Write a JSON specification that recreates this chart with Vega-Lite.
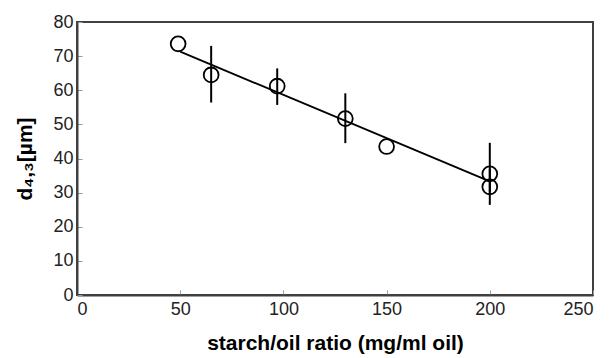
{
  "$schema": "https://vega.github.io/schema/vega-lite/v6.json",
  "width": 516,
  "height": 273,
  "padding": {"left": 77, "top": 22, "right": 17, "bottom": 63},
  "autosize": {"type": "none"},
  "background": "white",
  "config": {
    "view": {"stroke": "#404040", "strokeWidth": 2},
    "font": "Liberation Sans",
    "axis": {
      "grid": false,
      "domainColor": "#404040",
      "domainWidth": 2,
      "tickColor": "#999999",
      "tickSize": -5,
      "tickWidth": 1,
      "labelOverlap": false,
      "labelFont": "Liberation Sans",
      "labelFontSize": 18,
      "labelColor": "#222222",
      "titleFont": "Liberation Sans",
      "titleFontSize": 21,
      "titleFontWeight": "bold",
      "titleColor": "#000000"
    }
  },
  "datasets": {
    "pts": [
      {"ratio": 49, "d43": 73.6, "lo": null, "hi": null},
      {"ratio": 65, "d43": 64.5, "lo": 56.4, "hi": 73.0},
      {"ratio": 97, "d43": 61.2, "lo": 55.7, "hi": 66.4},
      {"ratio": 130, "d43": 51.7, "lo": 44.5, "hi": 59.1},
      {"ratio": 150, "d43": 43.5, "lo": null, "hi": null},
      {"ratio": 200, "d43": 35.5, "lo": 30.0, "hi": 44.6},
      {"ratio": 200, "d43": 31.7, "lo": 26.4, "hi": 37.0}
    ],
    "fit": [
      {"ratio": 50, "d43": 71.3},
      {"ratio": 200, "d43": 33.3}
    ]
  },
  "layer": [
    {
      "data": {"name": "pts"},
      "transform": [{"filter": "datum.lo != null"}],
      "mark": {"type": "rule", "color": "#000000", "strokeWidth": 2},
      "encoding": {
        "x": {"field": "ratio", "type": "quantitative"},
        "y": {"field": "lo", "type": "quantitative"},
        "y2": {"field": "hi"}
      }
    },
    {
      "data": {"name": "fit"},
      "mark": {"type": "line", "color": "#000000", "strokeWidth": 1.8},
      "encoding": {
        "x": {"field": "ratio", "type": "quantitative"},
        "y": {"field": "d43", "type": "quantitative"}
      }
    },
    {
      "data": {"name": "pts"},
      "mark": {"type": "point", "shape": "circle", "filled": false, "color": "#000000", "strokeWidth": 1.8, "size": 220, "opacity": 1},
      "encoding": {
        "x": {
          "field": "ratio", "type": "quantitative",
          "scale": {"domain": [0, 250], "nice": false},
          "axis": {"values": [0, 50, 100, 150, 200, 250], "labelOverlap": false, "title": "starch/oil ratio (mg/ml oil)", "labelPadding": 10, "titlePadding": 14}
        },
        "y": {
          "field": "d43", "type": "quantitative",
          "scale": {"domain": [0, 80], "nice": false},
          "axis": {"values": [0, 10, 20, 30, 40, 50, 60, 70, 80], "labelOverlap": false, "tickCount": 9, "title": "d₄,₃[µm]", "labelPadding": 9, "titlePadding": 17}
        }
      }
    }
  ]
}
